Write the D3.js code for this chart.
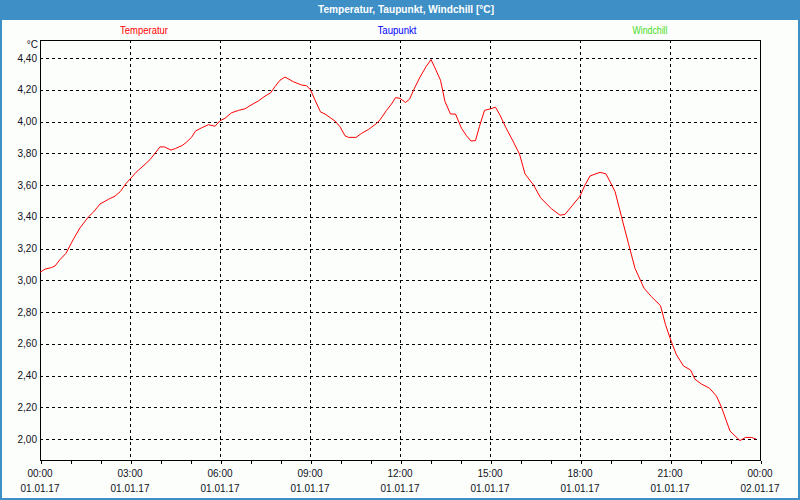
<!DOCTYPE html>
<html>
<head>
<meta charset="utf-8">
<script src="https://cdn.jsdelivr.net/npm/d3@7"></script>
<style>
html,body{margin:0;padding:0;background:#fff;}
svg{display:block;}
text{font-family:"Liberation Sans",Arial,sans-serif;}
</style>
</head>
<body>
<svg id="chart" width="800" height="500"></svg>
<script>
// ---- data ----
const title = "Temperatur, Taupunkt, Windchill [°C]";
const seriesNames = ["Temperatur", "Taupunkt", "Windchill"];
const seriesColors = ["#ff0000", "#0000ff", "#44dd22"];
const yTicks = [2.0, 2.2, 2.4, 2.6, 2.8, 3.0, 3.2, 3.4, 3.6, 3.8, 4.0, 4.2, 4.4];
const xTickHours = [0, 3, 6, 9, 12, 15, 18, 21, 24];
const xTimeLabels = ["00:00","03:00","06:00","09:00","12:00","15:00","18:00","21:00","00:00"];
const xDateLabels = ["01.01.17","01.01.17","01.01.17","01.01.17","01.01.17","01.01.17","01.01.17","01.01.17","02.01.17"];
// minutes since 01.01.17 00:00
const tempMinutes = [0,10,23,30,40,52,67,80,97,107,120,137,150,161,172,181,192,210,220,230,240,249,262,271,285,293,303,311,323,337,350,360,370,383,397,410,420,437,450,461,470,480,490,507,523,533,541,550,561,570,590,600,610,617,632,643,657,670,680,693,703,711,720,731,739,749,760,772,782,791,801,810,821,831,843,853,862,871,879,889,901,911,920,932,947,959,970,987,1001,1023,1040,1050,1067,1080,1090,1100,1120,1132,1150,1163,1177,1190,1208,1223,1241,1251,1263,1273,1287,1301,1310,1323,1339,1353,1363,1380,1390,1400,1411,1423,1432];
const tempValues = [3.05,3.07,3.08,3.09,3.13,3.17,3.26,3.33,3.40,3.43,3.48,3.51,3.53,3.56,3.61,3.64,3.68,3.73,3.76,3.80,3.84,3.84,3.82,3.83,3.85,3.87,3.90,3.94,3.96,3.98,3.97,4.005,4.02,4.055,4.07,4.08,4.10,4.13,4.16,4.18,4.22,4.26,4.28,4.25,4.23,4.225,4.20,4.135,4.06,4.047,4.003,3.967,3.91,3.90,3.90,3.925,3.95,3.98,4.01,4.07,4.11,4.15,4.146,4.12,4.14,4.21,4.28,4.345,4.39,4.33,4.26,4.125,4.047,4.047,3.957,3.91,3.877,3.88,3.97,4.07,4.08,4.09,4.04,3.96,3.87,3.795,3.67,3.60,3.52,3.45,3.41,3.415,3.48,3.53,3.60,3.657,3.68,3.67,3.56,3.40,3.23,3.075,2.95,2.896,2.84,2.72,2.61,2.53,2.46,2.435,2.376,2.346,2.32,2.27,2.20,2.05,2.02,1.99,2.01,2.01,2.00];

// ---- layout ----
const svg = d3.select("#chart");
const W = 800, H = 500;
const plot = {left: 40, right: 760, top: 40, bottom: 460};

svg.append("rect").attr("x",0).attr("y",0).attr("width",W).attr("height",H).attr("fill","#3d8fc5");
svg.append("rect").attr("x",2).attr("y",20).attr("width",W-4).attr("height",H-22).attr("fill","#fcfefc");

svg.append("text").attr("x",W/2+6).attr("y",13).attr("text-anchor","middle")
  .attr("fill","#ffffff").attr("font-size","11px").attr("font-weight","bold")
  .attr("textLength",176).attr("lengthAdjust","spacingAndGlyphs").text(title);

const legendX = [144, 397, 650];
const legendW = [48, 39, 35];
seriesNames.forEach((n,i)=>{
  svg.append("text").attr("x",legendX[i]).attr("y",34).attr("text-anchor","middle")
    .attr("fill",seriesColors[i]).attr("font-size","10px")
    .attr("textLength",legendW[i]).attr("lengthAdjust","spacingAndGlyphs").text(n);
});

const x = d3.scaleLinear().domain([0, 24*60]).range([plot.left, plot.right]);
const y = d3.scaleLinear().domain([2.0, 4.4]).range([439, 58]);

const g = svg.append("g");

// horizontal grid
g.selectAll("line.hg").data(yTicks).join("line")
  .attr("x1",plot.left).attr("x2",plot.right)
  .attr("y1",d=>Math.round(y(d))+0.5).attr("y2",d=>Math.round(y(d))+0.5)
  .attr("stroke","#000").attr("stroke-dasharray","3,3").attr("shape-rendering","crispEdges");
// vertical grid
g.selectAll("line.vg").data(xTickHours.slice(1,-1)).join("line")
  .attr("x1",d=>x(d*60)+0.5).attr("x2",d=>x(d*60)+0.5)
  .attr("y1",plot.top).attr("y2",plot.bottom)
  .attr("stroke","#000").attr("stroke-dasharray","3,3").attr("shape-rendering","crispEdges");

// frame
g.append("rect").attr("x",plot.left+0.5).attr("y",plot.top+0.5)
  .attr("width",plot.right-plot.left).attr("height",plot.bottom-plot.top)
  .attr("fill","none").attr("stroke","#000").attr("shape-rendering","crispEdges");

// x axis (hour ticks)
const xAxis = d3.axisBottom(x).tickValues(d3.range(0, 24*60+1, 60)).tickSize(3).tickFormat("");
const ax = svg.append("g").attr("transform",`translate(0.5,${plot.bottom+0.5})`).call(xAxis);
ax.select(".domain").remove();
ax.selectAll("line").attr("stroke","#000").attr("shape-rendering","crispEdges");

xTickHours.forEach((h,i)=>{
  svg.append("text").attr("x",x(h*60)).attr("y",477).attr("text-anchor","middle")
    .attr("fill","#101020").attr("font-size","10px").text(xTimeLabels[i]);
  svg.append("text").attr("x",x(h*60)).attr("y",492).attr("text-anchor","middle")
    .attr("fill","#101020").attr("font-size","10px").text(xDateLabels[i]);
});

// y labels
yTicks.forEach(v=>{
  svg.append("text").attr("x",37).attr("y",y(v)+3.5).attr("text-anchor","end")
    .attr("fill","#101020").attr("font-size","10px").text(v.toFixed(2).replace(".",","));
});
svg.append("text").attr("x",38).attr("y",48).attr("text-anchor","end")
  .attr("fill","#101020").attr("font-size","10px").text("°C");

// series line
const line = d3.line().x(d=>x(d[0])).y(d=>y(d[1]));
const pts = tempMinutes.map((m,i)=>[m, tempValues[i]]);
svg.append("path").datum(pts).attr("d",line)
  .attr("fill","none").attr("stroke",seriesColors[0]).attr("stroke-width",1);
</script>
</body>
</html>
